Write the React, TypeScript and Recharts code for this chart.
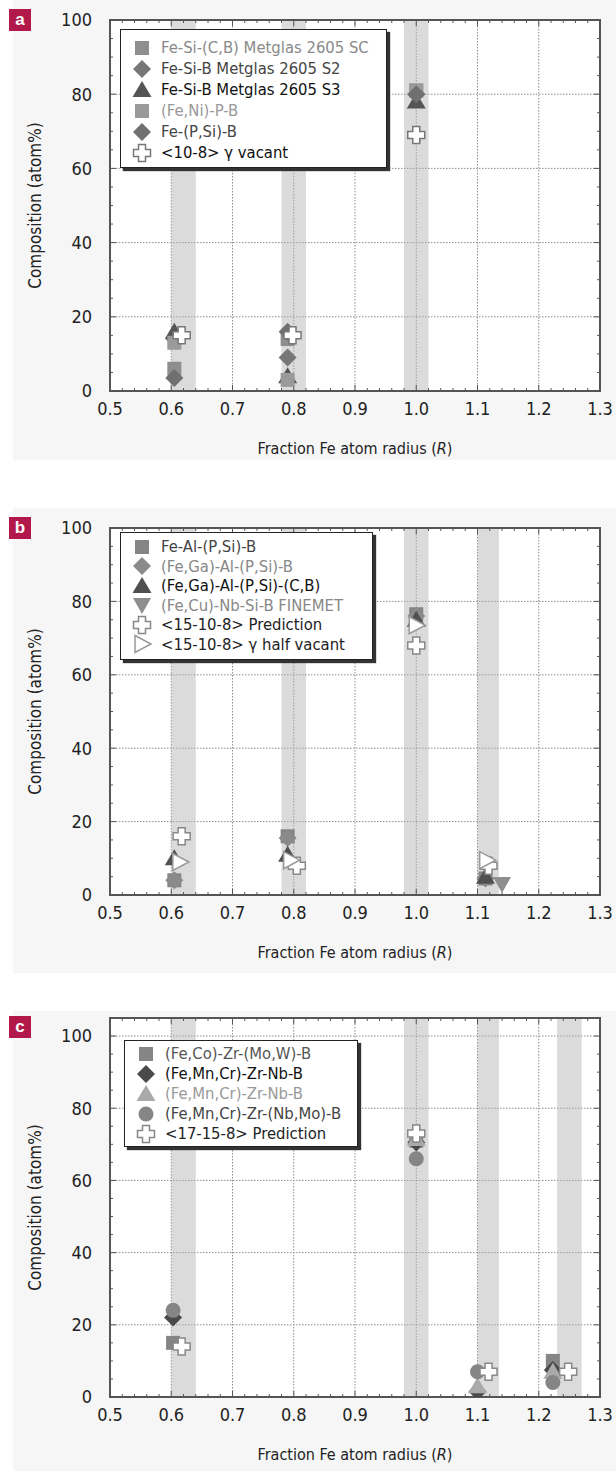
import React from 'react';
import { ScatterChart, Scatter, XAxis, YAxis, CartesianGrid, ReferenceArea, ReferenceLine, Label } from 'recharts';

const FONT = '"Liberation Sans Narrow","DejaVu Sans Condensed","Arial Narrow","Liberation Sans",sans-serif';

// ---------- axes ----------
const xTicks = [0.5, 0.6, 0.7, 0.8, 0.9, 1.0, 1.1, 1.2, 1.3];
const xTickLabels = ['0.5', '0.6', '0.7', '0.8', '0.9', '1.0', '1.1', '1.2', '1.3'];
const yTicks = [0, 20, 40, 60, 80, 100];
const yTickLabels = ['0', '20', '40', '60', '80', '100'];
const xMinorTicks = Array.from({ length: 41 }, (_, i) => +(0.5 + i * 0.02).toFixed(2));
const yMinorTicks = Array.from({ length: 21 }, (_, i) => i * 5);

// ---------- panel a ----------
const aBands = [[0.6, 0.64], [0.78, 0.82], [0.98, 1.02]];
const aSC = [{ x: 0.605, y: 6 }, { x: 0.79, y: 14 }, { x: 1.0, y: 81 }];
const aS2 = [{ x: 0.605, y: 14 }, { x: 0.79, y: 9 }, { x: 1.0, y: 80 }];
const aS3 = [{ x: 0.605, y: 16 }, { x: 0.79, y: 4 }, { x: 1.0, y: 78 }];
const aFeNiPB = [{ x: 0.605, y: 13 }, { x: 0.79, y: 3 }, { x: 1.0, y: 81 }];
const aFePSiB = [{ x: 0.605, y: 3.5 }, { x: 0.79, y: 16 }, { x: 1.0, y: 80 }];
const aPred = [{ x: 0.617, y: 15 }, { x: 0.798, y: 15 }, { x: 1.0, y: 69 }];

// ---------- panel b ----------
const bBands = [[0.6, 0.64], [0.78, 0.82], [0.98, 1.02], [1.1, 1.135]];
const bFeAl = [{ x: 0.605, y: 4 }, { x: 0.79, y: 16 }, { x: 1.0, y: 76.5 }, { x: 1.113, y: 4.5 }];
const bFeGa = [{ x: 0.605, y: 4 }, { x: 0.79, y: 15.5 }, { x: 1.0, y: 76 }, { x: 1.113, y: 4.5 }];
const bFeGaCB = [{ x: 0.605, y: 10 }, { x: 0.79, y: 11 }, { x: 1.0, y: 75 }, { x: 1.113, y: 5 }];
const bFinemet = [{ x: 1.14, y: 3 }];
const bPred = [{ x: 0.617, y: 16 }, { x: 0.805, y: 8 }, { x: 1.0, y: 68 }, { x: 1.118, y: 8 }];
const bHalf = [{ x: 0.614, y: 9 }, { x: 0.795, y: 9.5 }, { x: 1.0, y: 73.5 }, { x: 1.115, y: 9.5 }];

// ---------- panel c ----------
const cBands = [[0.6, 0.64], [0.98, 1.02], [1.1, 1.135], [1.23, 1.27]];
const cFeCo = [{ x: 0.603, y: 15 }, { x: 1.0, y: 71 }, { x: 1.223, y: 10 }];
const cMnCrDia = [{ x: 0.603, y: 22 }, { x: 1.0, y: 70.5 }, { x: 1.1, y: 1.5 }, { x: 1.223, y: 7.5 }];
const cMnCrTri = [{ x: 1.0, y: 71.5 }, { x: 1.1, y: 3 }, { x: 1.223, y: 7 }];
const cMnCrMo = [{ x: 0.603, y: 24 }, { x: 1.0, y: 66 }, { x: 1.1, y: 7 }, { x: 1.223, y: 4 }];
const cPred = [{ x: 0.617, y: 14 }, { x: 1.0, y: 73 }, { x: 1.118, y: 7 }, { x: 1.248, y: 7 }];

type Kind = 'square' | 'diamond' | 'triangle' | 'triDown' | 'triRight' | 'circle' | 'cross';

function Marker({ kind, cx, cy, fill }: { kind: Kind; cx: number; cy: number; fill: string }) {
  switch (kind) {
    case 'square':
      return <rect x={cx - 7} y={cy - 7} width={14} height={14} fill={fill} />;
    case 'diamond':
      return <polygon points={`${cx},${cy - 9} ${cx + 9},${cy} ${cx},${cy + 9} ${cx - 9},${cy}`} fill={fill} />;
    case 'triangle':
      return <polygon points={`${cx},${cy - 9} ${cx + 9.5},${cy + 7} ${cx - 9.5},${cy + 7}`} fill={fill} />;
    case 'triDown':
      return <polygon points={`${cx - 9},${cy - 7} ${cx + 9},${cy - 7} ${cx},${cy + 9}`} fill={fill} />;
    case 'triRight':
      return <polygon points={`${cx - 7},${cy - 8.5} ${cx + 9},${cy} ${cx - 7},${cy + 8.5}`} fill="#fff" stroke={fill} strokeWidth={1.5} />;
    case 'circle':
      return <circle cx={cx} cy={cy} r={7.5} fill={fill} />;
    case 'cross': {
      const a = 3.5, L = 8.5;
      const d = `M${cx - a},${cy - L}H${cx + a}V${cy - a}H${cx + L}V${cy + a}H${cx + a}V${cy + L}H${cx - a}V${cy + a}H${cx - L}V${cy - a}H${cx - a}Z`;
      return <path d={d} fill="#fff" stroke={fill} strokeWidth={1.5} />;
    }
  }
  return null;
}

type Series = { name: string; data: { x: number; y: number }[]; kind: Kind; color: string; text: string };

type PanelCfg = {
  top: number;
  marginTop: number;
  xAxisHeight: number;
  yMax: number;
  bgTop: number;
  bgHeight: number;
  badge: string;
  badgeTop: number;
  bands: number[][];
  series: Series[];
  legend: { left: number; top: number; width: number; height: number; rowH: number; padTop: number };
};

const HEIGHT = 470;
const PLOT_W = 490;
const X0 = 0.5, X1 = 1.3;

const XTitle = (props: any) => {
  const vb = props.viewBox || {};
  return (
    <text x={vb.x + vb.width / 2} y={vb.y + 58} textAnchor="middle" dominantBaseline="middle"
      fontFamily={FONT} fontSize={16} fill="#222">
      Fraction Fe atom radius (<tspan fontStyle="italic">R</tspan>)
    </text>
  );
};

const YTitle = (props: any) => {
  const vb = props.viewBox || {};
  const cy = vb.y + vb.height / 2;
  return (
    <text x={36} y={cy} transform={`rotate(-90 36 ${cy})`} textAnchor="middle" dominantBaseline="middle"
      fontFamily={FONT} fontSize={17} fill="#222">
      Composition (atom%)
    </text>
  );
};

const TICK = '#555';

function tickLines(cfg: PanelCfg) {
  const plotH = HEIGHT - cfg.marginTop - cfg.xAxisHeight;
  const yPerPx = cfg.yMax / plotH;
  const xPerPx = (X1 - X0) / PLOT_W;
  const out: React.ReactElement[] = [];
  const major = (v: number, arr: number[]) => arr.some((t) => Math.abs(t - v) < 1e-6);
  xMinorTicks.forEach((t, i) => {
    const len = (major(t, xTicks) ? 6 : 3) * yPerPx;
    out.push(<ReferenceLine key={`xb${i}`} segment={[{ x: t, y: 0 }, { x: t, y: len }]} stroke={TICK} strokeWidth={1} ifOverflow="visible" />);
    out.push(<ReferenceLine key={`xt${i}`} segment={[{ x: t, y: cfg.yMax }, { x: t, y: cfg.yMax - len }]} stroke={TICK} strokeWidth={1} ifOverflow="visible" />);
  });
  yMinorTicks.forEach((t, i) => {
    const len = (major(t, yTicks) ? 6 : 3) * xPerPx;
    out.push(<ReferenceLine key={`yl${i}`} segment={[{ x: X0, y: t }, { x: X0 + len, y: t }]} stroke={TICK} strokeWidth={1} ifOverflow="visible" />);
    out.push(<ReferenceLine key={`yr${i}`} segment={[{ x: X1, y: t }, { x: X1 - len, y: t }]} stroke={TICK} strokeWidth={1} ifOverflow="visible" />);
  });
  return out;
}

function Panel({ cfg }: { cfg: PanelCfg }) {
  const lg = cfg.legend;
  return (
    <div style={{ position: 'absolute', left: 0, top: cfg.top, width: 616, height: HEIGHT }}>
      <div style={{ position: 'absolute', left: 13, top: cfg.bgTop, width: 603, height: cfg.bgHeight, background: '#f6f6f6' }} />
      <div style={{ position: 'absolute', left: 0, top: 0 }}>
        <ScatterChart width={616} height={HEIGHT} margin={{ top: cfg.marginTop, right: 616 - 110 - PLOT_W, left: 0, bottom: 0 }}>
          <CartesianGrid fill="#ffffff" stroke="#8e8e8e" strokeDasharray="1.5 1.5" />
          {cfg.bands.map((b, i) => (
            <ReferenceArea key={i} x1={b[0]} x2={b[1]} y1={0} y2={cfg.yMax} fill="#b0b0b0" fillOpacity={0.45} stroke="none" ifOverflow="hidden" />
          ))}
          <XAxis type="number" dataKey="x" domain={[X0, X1]} ticks={xTicks} interval={0} allowDataOverflow
            tickFormatter={(v: number) => xTickLabels[xTicks.findIndex((t) => Math.abs(t - v) < 1e-6)] ?? String(v)}
            tickLine={false} tickSize={0} tickMargin={11} axisLine={false} height={cfg.xAxisHeight}
            tick={{ fill: '#222', fontSize: 18, fontFamily: FONT }}>
            <Label content={XTitle} />
          </XAxis>
          <YAxis type="number" dataKey="y" domain={[0, cfg.yMax]} ticks={yTicks} interval={0} allowDataOverflow
            tickFormatter={(v: number) => yTickLabels[yTicks.indexOf(v)] ?? String(v)}
            tickLine={false} tickSize={0} tickMargin={18} axisLine={false} width={110}
            tick={{ fill: '#222', fontSize: 18, fontFamily: FONT }}>
            <Label content={YTitle} />
          </YAxis>
          {tickLines(cfg)}
          <ReferenceArea x1={X0} x2={X1} y1={0} y2={cfg.yMax} fill="none" stroke="#555" strokeWidth={2} ifOverflow="visible" />
          {cfg.series.map((s) => (
            <Scatter key={s.name + s.kind} name={s.name} data={s.data} isAnimationActive={false}
              shape={(p: any) => (p.cx == null ? <g /> : <Marker kind={s.kind} cx={p.cx} cy={p.cy} fill={s.color} />)} />
          ))}
        </ScatterChart>
      </div>
      <div style={{ position: 'absolute', left: 9, top: cfg.badgeTop, width: 22, height: 22, background: '#b3184a', color: '#fff', fontFamily: '"Liberation Sans",Arial,sans-serif', fontWeight: 'bold', fontSize: 17, lineHeight: '21px', textAlign: 'center' }}>
        {cfg.badge}
      </div>
      <div style={{ position: 'absolute', left: lg.left, top: lg.top, width: lg.width, height: lg.height, boxSizing: 'border-box', background: '#fff', border: '1.5px solid #222', boxShadow: '3px 3px 1px #333', paddingTop: lg.padTop }}>
        {cfg.series.map((s, i) => (
          <div key={i} style={{ position: 'relative', height: lg.rowH }}>
            <svg width={24} height={20} style={{ position: 'absolute', left: 9, top: (lg.rowH - 20) / 2 }}>
              <Marker kind={s.kind} cx={12} cy={10} fill={s.color} />
            </svg>
            <span style={{ position: 'absolute', left: 40, whiteSpace: 'nowrap', fontFamily: FONT, fontSize: 16.5, color: s.text, lineHeight: `${lg.rowH}px`, top: 0 }}>
              {s.name}
            </span>
          </div>
        ))}
      </div>
    </div>
  );
}

const panels: PanelCfg[] = [
  {
    top: 0, marginTop: 20, xAxisHeight: 79, yMax: 100, bgTop: 0, bgHeight: 460, badge: 'a', badgeTop: 9, bands: aBands,
    series: [
      { name: 'Fe-Si-(C,B) Metglas 2605 SC', data: aSC, kind: 'square', color: '#8e8e8e', text: '#8a8a8a' },
      { name: 'Fe-Si-B Metglas 2605 S2', data: aS2, kind: 'diamond', color: '#777777', text: '#444444' },
      { name: 'Fe-Si-B Metglas 2605 S3', data: aS3, kind: 'triangle', color: '#555555', text: '#111111' },
      { name: '(Fe,Ni)-P-B', data: aFeNiPB, kind: 'square', color: '#9a9a9a', text: '#999999' },
      { name: 'Fe-(P,Si)-B', data: aFePSiB, kind: 'diamond', color: '#707070', text: '#444444' },
      { name: '<10-8> \u03b3 vacant', data: aPred, kind: 'cross', color: '#777777', text: '#111111' },
    ],
    legend: { left: 120, top: 29, width: 267, height: 139, rowH: 21, padTop: 7 },
  },
  {
    top: 508, marginTop: 20, xAxisHeight: 83, yMax: 100, bgTop: 0, bgHeight: 465, badge: 'b', badgeTop: 9, bands: bBands,
    series: [
      { name: 'Fe-Al-(P,Si)-B', data: bFeAl, kind: 'square', color: '#858585', text: '#444444' },
      { name: '(Fe,Ga)-Al-(P,Si)-B', data: bFeGa, kind: 'diamond', color: '#8a8a8a', text: '#888888' },
      { name: '(Fe,Ga)-Al-(P,Si)-(C,B)', data: bFeGaCB, kind: 'triangle', color: '#505050', text: '#111111' },
      { name: '(Fe,Cu)-Nb-Si-B FINEMET', data: bFinemet, kind: 'triDown', color: '#8e8e8e', text: '#888888' },
      { name: '<15-10-8> Prediction', data: bPred, kind: 'cross', color: '#888888', text: '#222222' },
      { name: '<15-10-8> \u03b3 half vacant', data: bHalf, kind: 'triRight', color: '#999999', text: '#222222' },
    ],
    legend: { left: 120, top: 24, width: 253, height: 128, rowH: 19.5, padTop: 4 },
  },
  {
    top: 1001, marginTop: 17, xAxisHeight: 74, yMax: 105, bgTop: 10, bgHeight: 460, badge: 'c', badgeTop: 15, bands: cBands,
    series: [
      { name: '(Fe,Co)-Zr-(Mo,W)-B', data: cFeCo, kind: 'square', color: '#858585', text: '#555555' },
      { name: '(Fe,Mn,Cr)-Zr-Nb-B', data: cMnCrDia, kind: 'diamond', color: '#4a4a4a', text: '#111111' },
      { name: '(Fe,Mn,Cr)-Zr-Nb-B', data: cMnCrTri, kind: 'triangle', color: '#aaaaaa', text: '#999999' },
      { name: '(Fe,Mn,Cr)-Zr-(Nb,Mo)-B', data: cMnCrMo, kind: 'circle', color: '#858585', text: '#444444' },
      { name: '<17-15-8> Prediction', data: cPred, kind: 'cross', color: '#888888', text: '#222222' },
    ],
    legend: { left: 124, top: 39, width: 234, height: 107, rowH: 20, padTop: 3 },
  },
];

export default function App() {
  return (
    <div style={{ position: 'absolute', left: 0, top: 0, width: 616, height: 1471, background: '#fff', overflow: 'hidden' }}>
      {panels.map((p, i) => (
        <Panel key={i} cfg={p} />
      ))}
    </div>
  );
}
